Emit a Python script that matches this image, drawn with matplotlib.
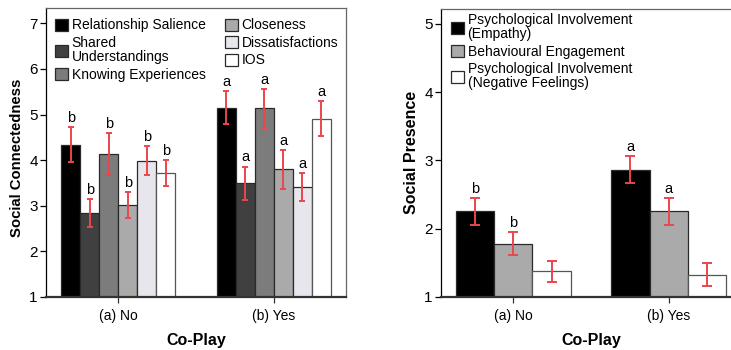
import matplotlib
matplotlib.use("Agg")
import matplotlib.pyplot as plt
import numpy as np

plt.rcParams['font.family'] = ['Liberation Sans', 'DejaVu Sans']

# ---- data ----
groups = ['(a) No', '(b) Yes']

connect_labels = ['Relationship Salience', 'Shared\nUnderstandings', 'Knowing Experiences',
                  'Closeness', 'Dissatisfactions', 'IOS']
connect_colors = ['#000000', '#404040', '#7c7c7c', '#a9aaa9', '#e6e6ec', '#ffffff']
connect_no = [4.34, 2.84, 4.14, 3.02, 3.99, 3.71]
connect_yes = [5.15, 3.49, 5.14, 3.80, 3.42, 4.91]
connect_no_err = [0.385, 0.315, 0.46, 0.29, 0.32, 0.285]
connect_yes_err = [0.365, 0.37, 0.425, 0.425, 0.305, 0.385]
connect_no_sig = ['b', 'b', 'b', 'b', 'b', 'b']
connect_yes_sig = ['a', 'a', 'a', 'a', 'a', 'a']

presence_labels = ['Psychological Involvement\n(Empathy)', 'Behavioural Engagement',
                   'Psychological Involvement\n(Negative Feelings)']
presence_colors = ['#000000', '#a9aaa9', '#ffffff']
presence_no = [2.25, 1.78, 1.37]
presence_yes = [2.865, 2.25, 1.32]
presence_no_err = [0.195, 0.17, 0.15]
presence_yes_err = [0.20, 0.195, 0.17]
presence_no_sig = ['b', 'b', '']
presence_yes_sig = ['a', 'a', '']

ERR_COLOR = '#e8474c'
W, H = 731, 350


def draw_panel(ax, labels, colors, means, errs, sigs, width, capsize, ylim, yticks,
               ylabel, ylabel_size):
    n = len(labels)
    x = np.arange(len(groups))
    for i in range(n):
        pos = x + (i - (n - 1) / 2) * width
        vals = [m[i] for m in means]
        ee = [e[i] for e in errs]
        edge = '#555555' if colors[i] == '#ffffff' else '#2a2a2a'
        ax.bar(pos, vals, width, color=colors[i], edgecolor=edge, linewidth=0.9,
               label=labels[i], zorder=2)
        ax.errorbar(pos, vals, yerr=ee, fmt='none', ecolor=ERR_COLOR, elinewidth=1.4,
                    capsize=capsize, capthick=1.4, zorder=3)
        for p, v, e, s in zip(pos, vals, ee, [g[i] for g in sigs]):
            if s:
                ax.annotate(s, (p, v + e), xytext=(0, 1.5), textcoords='offset points',
                            ha='center', va='bottom', fontsize=10.5)
    ax.set_xlim(-0.465, 1.465)
    ax.set_ylim(*ylim)
    ax.set_yticks(yticks)
    ax.set_xticks(x)
    ax.set_xticklabels(groups)
    ax.tick_params(axis='y', direction='out', length=4.5, width=0.9, pad=1.5, labelsize=11)
    ax.tick_params(axis='x', direction='out', length=4.5, width=0.9, pad=4, labelsize=10,
                   color='#333333')
    ax.set_ylabel(ylabel, fontsize=ylabel_size, fontweight='bold')
    ax.set_xlabel('Co-Play', fontsize=11.5, fontweight='bold')
    ax.xaxis.set_label_coords(0.5, -0.125)
    for side in ['top', 'right']:
        ax.spines[side].set_color('#666666')
        ax.spines[side].set_linewidth(0.9)
    ax.spines['left'].set_linewidth(0.9)
    ax.spines['bottom'].set_linewidth(1.6)
    ax.spines['bottom'].set_color('#333333')


fig = plt.figure(figsize=(W / 100, H / 100), dpi=100)

ax1 = fig.add_axes([46 / W, 53 / H, 300 / W, 289 / H])
draw_panel(ax1, connect_labels, connect_colors, [connect_no, connect_yes],
           [connect_no_err, connect_yes_err], [connect_no_sig, connect_yes_sig],
           0.122, 2.3, (1, 7.335), range(1, 8), 'Social Connectedness', 10.7)
ax1.yaxis.set_label_coords(-0.073, 0.483)
leg1 = ax1.legend(loc='upper left', bbox_to_anchor=(0.03, 0.964), ncol=2, frameon=False,
                  fontsize=10, borderpad=0, borderaxespad=0, handlelength=0.95,
                  handleheight=0.95, handletextpad=0.25, labelspacing=0.25, columnspacing=1.4)
for t in leg1.get_texts():
    t.set_linespacing(1.05)
for p in leg1.get_patches():
    p.set_edgecolor('#2a2a2a')

ax2 = fig.add_axes([441 / W, 53.3 / H, 300 / W, 287.7 / H])
draw_panel(ax2, presence_labels, presence_colors, [presence_no, presence_yes],
           [presence_no_err, presence_yes_err], [presence_no_sig, presence_yes_sig],
           0.247, 3.6, (1, 5.22), range(1, 6), 'Social Presence', 11.5)
ax2.yaxis.set_label_coords(-0.073, 0.5)
leg2 = ax2.legend(loc='upper left', bbox_to_anchor=(0.033, 0.985), frameon=False,
                  fontsize=10, borderpad=0, borderaxespad=0, handlelength=0.95,
                  handleheight=0.95, handletextpad=0.25, labelspacing=0.27)
for t in leg2.get_texts():
    t.set_linespacing(0.95)
for p in leg2.get_patches():
    p.set_edgecolor('#2a2a2a')

fig.savefig('out.png', dpi=100)
